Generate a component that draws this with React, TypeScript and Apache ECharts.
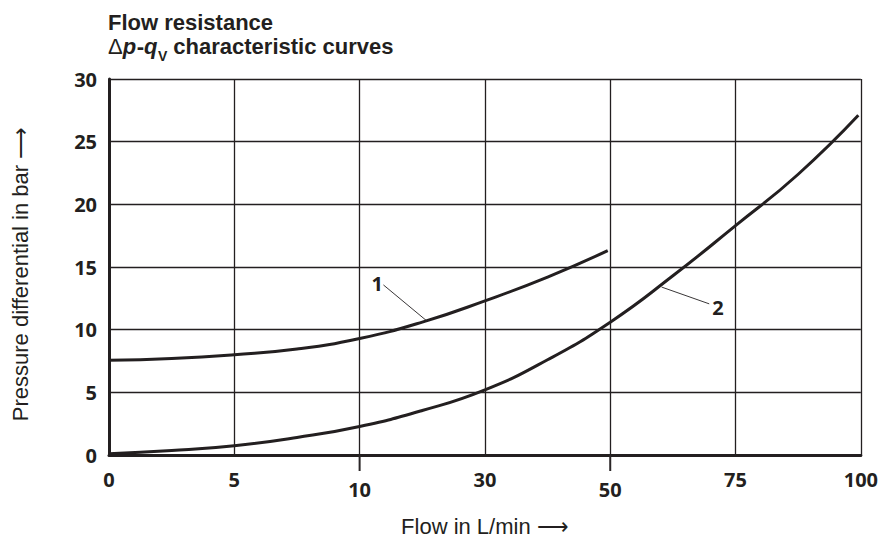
import React, { useEffect, useRef } from "react";
import * as echarts from "echarts";

// Tick labels of the (non-linear) flow axis, placed at equally spaced positions 0..6
const xTickLabels = ["0", "5", "10", "30", "50", "75", "100"];
const loweredLabels = ["10", "50"];
const yTickValues = [0, 5, 10, 15, 20, 25, 30];

// Curve 1 (x in axis-position units 0..6, y in bar)
const curve1X = [0, 0.5, 1, 1.5, 2, 2.5, 3, 3.5, 3.98];
const curve1Y = [7.56, 7.7, 8.0, 8.45, 9.3, 10.6, 12.3, 14.2, 16.3];

// Curve 2
const curve2X = [0, 0.5, 1, 1.5, 2, 2.5, 3, 3.5, 4, 4.5, 5, 5.5, 5.98];
const curve2Y = [0.1, 0.35, 0.74, 1.4, 2.28, 3.55, 5.2, 7.6, 10.6, 14.3, 18.3, 22.4, 27.1];

// Curve call-outs: label position, leader start, leader end (data coordinates)
const callouts = [
  { text: "1", at: [2.14, 13.65], from: [2.19, 13.57], to: [2.53, 10.75] },
  { text: "2", at: [4.86, 11.75], from: [4.79, 12.06], to: [4.41, 13.4] },
];

// Title pieces
const titleLine1 = "Flow resistance";
const titleLine2 = [
  { t: "Δ", weight: "normal", italic: false, size: 22, drop: 0 },
  { t: "p", weight: "bold", italic: true, size: 22, drop: 0 },
  { t: "-", weight: "bold", italic: false, size: 22, drop: 0 },
  { t: "q", weight: "bold", italic: true, size: 22, drop: 0 },
  { t: "V", weight: "bold", italic: false, size: 14, drop: 7 },
  { t: " characteristic curves", weight: "bold", italic: false, size: 22, drop: 0 },
];

const INK = "#231f20";
const TICK_FONT = "'Open Sans', 'Noto Sans', sans-serif";
const TEXT_FONT = "'Liberation Sans', Arial, sans-serif";

function measure(text: string, size: number, weight: string, italic: boolean) {
  const c = document.createElement("canvas").getContext("2d");
  if (!c) return text.length * size * 0.55;
  c.font = `${italic ? "italic " : ""}${weight} ${size}px "Liberation Sans", Arial, sans-serif`;
  return c.measureText(text).width;
}

export default function App() {
  const ref = useRef<HTMLDivElement>(null);

  useEffect(() => {
    if (!ref.current) return;
    const chart = echarts.init(ref.current, null, { renderer: "svg" });

    const option: any = {
      animation: false,
      backgroundColor: "#ffffff",
      grid: { left: 109, top: 79, width: 756, height: 378, containLabel: false },
      xAxis: {
        type: "value",
        min: 0,
        max: 6,
        interval: 1,
        name: "Flow in L/min ⟶",
        nameLocation: "middle",
        nameGap: 60,
        nameTextStyle: { fontFamily: TEXT_FONT, fontSize: 22, color: INK },
        axisLine: { show: true, onZero: false, lineStyle: { color: INK, width: 3 } },
        axisTick: { show: false },
        splitLine: { show: true, lineStyle: { color: INK, width: 1.3 } },
        axisLabel: {
          margin: 14,
          fontFamily: TICK_FONT,
          fontWeight: "bold",
          fontSize: 20,
          color: INK,
          formatter: (v: number) => {
            const s = xTickLabels[Math.round(v)] ?? "";
            return loweredLabels.includes(s) ? `{low|${s}}` : s;
          },
          rich: {
            low: { fontFamily: TICK_FONT, fontWeight: "bold", fontSize: 20, color: INK, padding: [10, 0, 0, 0] },
          },
        },
      },
      yAxis: {
        type: "value",
        min: 0,
        max: 30,
        interval: 5,
        name: "Pressure differential in bar ⟶",
        nameLocation: "middle",
        nameGap: 78,
        nameTextStyle: { fontFamily: TEXT_FONT, fontSize: 22, color: INK, padding: [0, 14, 0, 0] },
        axisLine: { show: true, lineStyle: { color: INK, width: 3 } },
        axisTick: { show: false },
        splitLine: { show: true, lineStyle: { color: INK, width: 1.3 } },
        axisLabel: {
          margin: 12,
          fontFamily: TICK_FONT,
          fontWeight: "bold",
          fontSize: 20,
          color: INK,
          formatter: (v: number) => (yTickValues.includes(v) ? String(v) : ""),
        },
      },
      series: [
        {
          name: "1",
          type: "line",
          smooth: 0.5,
          symbol: "none",
          lineStyle: { color: INK, width: 3 },
          data: curve1X.map((x, i) => [x, curve1Y[i]]),
          z: 5,
        },
        {
          name: "2",
          type: "line",
          smooth: 0.5,
          symbol: "none",
          lineStyle: { color: INK, width: 3 },
          data: curve2X.map((x, i) => [x, curve2Y[i]]),
          z: 5,
        },
      ],
    };

    chart.setOption(option);

    const px = (p: number[]) =>
      chart.convertToPixel({ xAxisIndex: 0, yAxisIndex: 0 }, p) as number[];
    const graphic: any[] = [];

    // Title (two lines, second with subscript)
    const titleX = 108;
    const base1 = 30;
    const base2 = 54;
    const central = 0.3465; // em offset of central baseline above alphabetic baseline
    graphic.push({
      type: "text",
      x: titleX,
      y: base1 - 22 * central,
      style: {
        text: titleLine1,
        fontFamily: TEXT_FONT,
        fontWeight: "bold",
        fontSize: 22,
        fill: INK,
        align: "left",
        verticalAlign: "middle",
      },
    });
    let cx = titleX;
    titleLine2.forEach((piece) => {
      graphic.push({
        type: "text",
        x: cx,
        y: base2 + piece.drop - piece.size * central,
        style: {
          text: piece.t,
          fontFamily: TEXT_FONT,
          fontWeight: piece.weight,
          fontStyle: piece.italic ? "italic" : "normal",
          fontSize: piece.size,
          fill: INK,
          align: "left",
          verticalAlign: "middle",
        },
      });
      cx += measure(piece.t, piece.size, piece.weight, piece.italic) + (piece.italic ? 0.5 : 0);
    });

    // longer ticks below the axis at the lowered labels
    loweredLabels.forEach((lab) => {
      const idx = xTickLabels.indexOf(lab);
      const p = px([idx, 0]);
      graphic.push({
        type: "rect",
        shape: { x: p[0] - 1, y: p[1], width: 2, height: 16 },
        style: { fill: "#2a2627" },
        z: 100,
      });
    });

    callouts.forEach((c) => {
      const a = px(c.at);
      const f = px(c.from);
      const t = px(c.to);
      graphic.push({
        type: "line",
        shape: { x1: f[0], y1: f[1], x2: t[0], y2: t[1] },
        style: { stroke: INK, lineWidth: 0.9 },
        z: 10,
      });
      graphic.push({
        type: "text",
        x: a[0],
        y: a[1],
        style: {
          text: c.text,
          fontFamily: TICK_FONT,
          fontWeight: "bold",
          fontSize: 20,
          fill: INK,
          align: "center",
          verticalAlign: "middle",
        },
        z: 10,
      });
    });
    chart.setOption({ graphic });

    return () => chart.dispose();
  }, []);

  return (
    <div
      ref={ref}
      style={{ position: "fixed", left: 0, top: 0, width: 881, height: 542, background: "#fff" }}
    />
  );
}
